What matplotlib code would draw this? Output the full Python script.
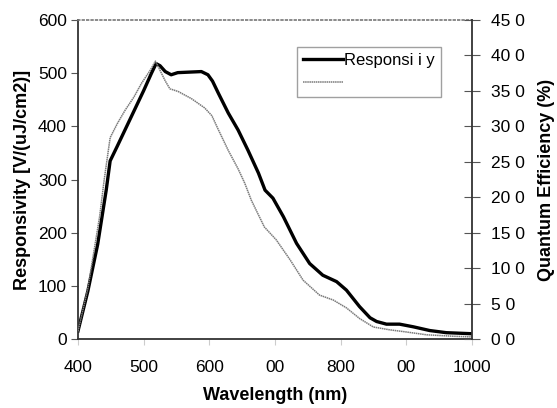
import matplotlib
matplotlib.use("Agg")
import matplotlib.pyplot as plt

plt.rcParams["font.family"] = ["Liberation Sans", "DejaVu Sans"]

# responsivity curve (thick black), V/(uJ/cm2)
wl_resp = [400, 415, 430, 443, 449, 460, 480, 500, 512, 519, 525, 533, 542,
           552, 570, 588, 598, 605, 614, 629, 644, 659, 675, 685, 697, 713,
           733, 753, 773, 794, 809, 829, 845, 855, 870, 890, 911, 936, 961, 1000]
resp = [15, 90, 178, 280, 335, 363, 415, 467, 500, 518, 514, 503, 497,
        501, 502, 503, 497, 485, 462, 425, 393, 355, 312, 280, 265, 230,
        180, 142, 120, 108, 92, 61, 40, 33, 28, 28, 23, 16, 12, 10]

# quantum efficiency curve (thin grey), %
wl_qe = [400, 415, 433, 440, 449, 460, 472, 485, 497, 510, 518, 525, 533,
         540, 553, 573, 593, 604, 614, 629, 644, 654, 664, 684, 702, 723,
         743, 768, 789, 809, 829, 850, 875, 900, 931, 971, 1000]
qe = [1.1, 7.1, 17.3, 22.5, 28.4, 30.4, 32.3, 34.1, 36.1, 37.9, 39.2, 37.9, 36.4,
      35.3, 34.9, 33.9, 32.6, 31.5, 29.5, 26.6, 24.0, 22.0, 19.6, 15.8, 14.0, 11.2,
      8.3, 6.2, 5.5, 4.4, 2.9, 1.7, 1.3, 1.0, 0.6, 0.4, 0.3]

x_ticks = [400, 500, 600, 700, 800, 900, 1000]
x_labels = ["400", "500", "600", "00", "800", "00", "1000"]
left_ticks = [0, 100, 200, 300, 400, 500, 600]
right_ticks = [0, 5, 10, 15, 20, 25, 30, 35, 40, 45]
right_labels = ["0 0", "5 0", "10 0", "15 0", "20 0", "25 0",
                "30 0", "35 0", "40 0", "45 0"]

fig, ax = plt.subplots(figsize=(5.57, 4.08), dpi=100)
fig.subplots_adjust(left=0.140, right=0.847, top=0.951, bottom=0.169)
ax2 = ax.twinx()

line_r, = ax.plot(wl_resp, resp, color="black", lw=2.4, solid_joinstyle="round")
line_q, = ax2.plot(wl_qe, qe, color="#7a7a7a", lw=1.1, ls=(0, (1, 0.4)))

ax.set_xlim(400, 1000)
ax.set_ylim(0, 600)
ax2.set_ylim(0, 45)

ax.set_xticks(x_ticks)
ax.set_xticklabels(x_labels)
ax.set_yticks(left_ticks)
ax2.set_yticks(right_ticks)
ax2.set_yticklabels(right_labels)

ax.tick_params(axis="y", direction="out", length=5, width=0.8, color="#555555",
               labelsize=12.5, pad=3)
ax.tick_params(axis="x", direction="out", length=4, width=0.8, color="#cccccc",
               labelsize=12.5, pad=11)
ax2.tick_params(axis="y", direction="inout", length=11, width=0.8, color="#555555",
                labelsize=12.5, pad=8)

for sp in ["left", "bottom"]:
    ax.spines[sp].set_color("#333333")
    ax.spines[sp].set_linewidth(1.3)
ax.spines["right"].set_visible(False)
ax.spines["top"].set_linestyle(":")
ax.spines["top"].set_color("#777777")
ax.spines["top"].set_linewidth(1.2)
for sp in ["left", "bottom", "top"]:
    ax2.spines[sp].set_visible(False)
ax2.spines["right"].set_color("#333333")
ax2.spines["right"].set_linewidth(1.3)

ax.set_xlabel("Wavelength (nm)", fontsize=13, fontweight="bold", labelpad=9)
ax.set_ylabel("Responsivity [V/(uJ/cm2)]", fontsize=13, fontweight="bold", labelpad=5)
ax2.set_ylabel("Quantum Efficiency (%)", fontsize=13, fontweight="bold", labelpad=10)

leg = ax2.legend([line_r, line_q], ["Responsi i y", " "],
                 loc="upper left", bbox_to_anchor=(0.556, 0.915),
                 fontsize=12, frameon=True, fancybox=False,
                 handlelength=2.4, handletextpad=0.1, labelspacing=0.5,
                 borderpad=0.35, borderaxespad=0)
leg.get_frame().set_edgecolor("#888888")
leg.get_frame().set_linewidth(1.0)

plt.savefig("out.png", dpi=100)
